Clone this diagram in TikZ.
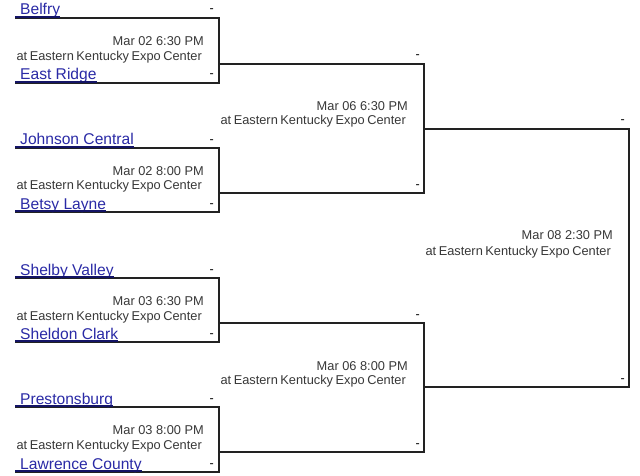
\documentclass[tikz,border=0pt]{standalone}
\usepackage{fontspec}
\setmainfont{Liberation Sans}
\definecolor{teamblue}{HTML}{2A2AA6}
\definecolor{ulblue}{HTML}{141466}
\definecolor{linegray}{HTML}{222222}
\definecolor{textgray}{HTML}{383838}
\newcommand{\venuetext}{\spaceskip=0.2em\relax at Eastern Kentucky Expo Center}
\tikzset{
  bracket/.style={draw=linegray, line width=1.7pt},
  team/.style={anchor=base west, inner sep=0pt, text=teamblue, font=\fontsize{15.6}{17}\selectfont},
  teamul/.style={draw=ulblue, line width=1.9pt},
  score/.style={anchor=base east, inner sep=0pt, text=black, font=\fontsize{12.5}{14}\selectfont},
  datetxt/.style={anchor=base east, inner sep=0pt, text=textgray, font=\fontsize{12.8}{14}\selectfont},
}
\begin{document}
\begin{tikzpicture}[x=1pt,y=-1pt]
\useasboundingbox (0,0) rectangle (640,476);
\fill[white] (0,0) rectangle (640,476);

% ---------- Round 1 coordinates ----------
\foreach \n/\t/\b/\c in {a/18/83/64, b/148/212/193, c/278/342/323, d/407/472/452}{
  \coordinate (\n TL) at (15,\t);
  \coordinate (\n TR) at (219,\t);
  \coordinate (\n BL) at (15,\b);
  \coordinate (\n BR) at (219,\b);
  \coordinate (\n C) at (219,\c);
}
% ---------- Round 2 coordinates ----------
\coordinate (eTL) at (219,64);  \coordinate (eTR) at (424,64);
\coordinate (eBL) at (219,193); \coordinate (eBR) at (424,193);
\coordinate (eC) at (424,129);
\coordinate (fTL) at (219,323); \coordinate (fTR) at (424,323);
\coordinate (fBL) at (219,452); \coordinate (fBR) at (424,452);
\coordinate (fC) at (424,387);
% ---------- Final coordinates ----------
\coordinate (gTL) at (424,129); \coordinate (gTR) at (629,129);
\coordinate (gBL) at (424,387); \coordinate (gBR) at (629,387);

% ---------- Brackets ----------
\foreach \n in {a,b,c,d,e,f,g}{
  \draw[bracket] (\n TL) -- (\n TR) -- (\n BR) -- (\n BL);
}

% ---------- Team names ----------
\node[team] (t1) at (20,15) {Belfry};
\node[team] (t2) at (20,80) {East Ridge};
\node[team] (t3) at (20,145) {Johnson Central};
\node[team] (t4) at (20,209) {Betsy Layne};
\node[team] (t5) at (20,275) {Shelby Valley};
\node[team] (t6) at (20,339) {Sheldon Clark};
\node[team] (t7) at (20,404) {Prestonsburg};
\node[team] (t8) at (20,469) {Lawrence County};
\foreach \i/\y in {1/18,2/83,3/148,4/212,5/278,6/342,7/407,8/472}{
  \draw[teamul] (15,\y-1) -- (t\i.east |- 0,\y-1);
}

% ---------- Scores ----------
\foreach \i/\y in {1/18,2/83,3/148,4/212,5/278,6/342,7/407,8/472}{
  \node[score] (s\i) at (214,\y-5) {-};
}
\node[score] (s9)  at (420,59) {-};
\node[score] (s10) at (420,188) {-};
\node[score] (s11) at (420,318) {-};
\node[score] (s12) at (420,447) {-};
\node[score] (s13) at (625,124) {-};
\node[score] (s14) at (625,382) {-};

% ---------- Dates and venues ----------
\node[datetxt] (d1) at (204,45.5) {Mar 02 6:30 PM};
\node[datetxt] (v1) at (202,60.5) {\venuetext};
\node[datetxt] (d2) at (204,175.5) {Mar 02 8:00 PM};
\node[datetxt] (v2) at (202,189.5) {\venuetext};
\node[datetxt] (d3) at (204,305.5) {Mar 03 6:30 PM};
\node[datetxt] (v3) at (202,320.5) {\venuetext};
\node[datetxt] (d4) at (204,434.5) {Mar 03 8:00 PM};
\node[datetxt] (v4) at (202,449.5) {\venuetext};
\node[datetxt] (d5) at (408,110.5) {Mar 06 6:30 PM};
\node[datetxt] (v5) at (406,124.5) {\venuetext};
\node[datetxt] (d6) at (408,370.5) {Mar 06 8:00 PM};
\node[datetxt] (v6) at (406,384.5) {\venuetext};
\node[datetxt] (d7) at (613,239.5) {Mar 08 2:30 PM};
\node[datetxt] (v7) at (611,255.5) {\venuetext};
\end{tikzpicture}
\end{document}
